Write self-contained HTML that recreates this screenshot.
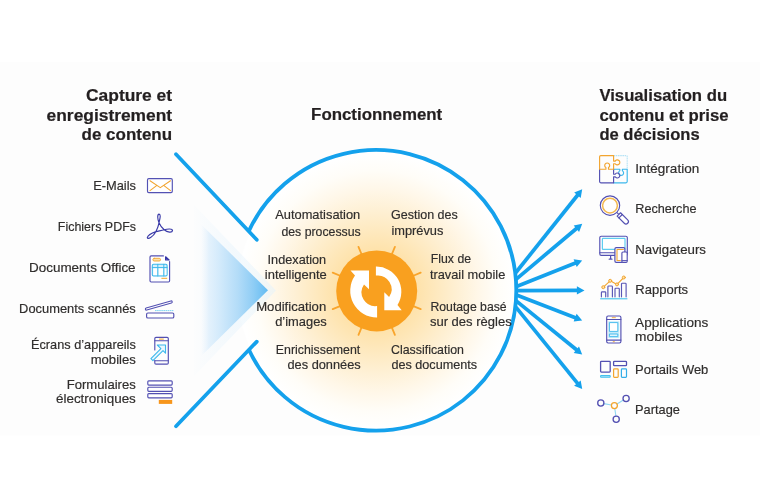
<!DOCTYPE html>
<html>
<head>
<meta charset="utf-8">
<title>Fonctionnement</title>
<style>
html,body{margin:0;padding:0;background:#ffffff;}
body{width:760px;height:501px;overflow:hidden;font-family:"Liberation Sans",sans-serif;}
svg{display:block;will-change:transform;}
text{font-family:"Liberation Sans",sans-serif;}
.h{font-weight:bold;font-size:16px;fill:#231f20;stroke:#231f20;stroke-width:0.2px;}
.t{font-size:12.8px;fill:#302e2d;stroke:#302e2d;stroke-width:0.18px;}
</style>
</head>
<body>
<svg width="760" height="501" viewBox="0 0 760 501">
<defs>
<radialGradient id="glow" gradientUnits="userSpaceOnUse" cx="376.5" cy="291" r="137">
<stop offset="0" stop-color="#fddc9c"/>
<stop offset="0.29" stop-color="#fee2aa"/>
<stop offset="0.44" stop-color="#fee9bf"/>
<stop offset="0.59" stop-color="#fef0d4"/>
<stop offset="0.74" stop-color="#fff7e8"/>
<stop offset="0.88" stop-color="#fffdf8"/>
<stop offset="1" stop-color="#ffffff"/>
</radialGradient>
<linearGradient id="tri" gradientUnits="userSpaceOnUse" x1="201" y1="0" x2="268" y2="0">
<stop offset="0" stop-color="#e4f1fc" stop-opacity="0"/>
<stop offset="0.12" stop-color="#dceefc" stop-opacity="0.75"/>
<stop offset="0.3" stop-color="#d0e9fb" stop-opacity="1"/>
<stop offset="0.55" stop-color="#b3dcf8" stop-opacity="1"/>
<stop offset="0.78" stop-color="#8fcdf5" stop-opacity="1"/>
<stop offset="1" stop-color="#62bbf2" stop-opacity="1"/>
</linearGradient>
<linearGradient id="tri2" gradientUnits="userSpaceOnUse" x1="188" y1="0" x2="276" y2="0">
<stop offset="0" stop-color="#e3f2fc" stop-opacity="0"/>
<stop offset="0.5" stop-color="#e3f2fc" stop-opacity="0.4"/>
<stop offset="1" stop-color="#e3f2fc" stop-opacity="0.5"/>
</linearGradient>
</defs>
<!-- background band -->
<rect x="0" y="0" width="760" height="501" fill="#ffffff"/>
<rect x="0" y="62" width="760" height="373.5" fill="#fdfdfd"/>
<!-- glow -->
<circle cx="376" cy="290.3" r="138.5" fill="url(#glow)"/>
<!-- blue funnel triangles -->
<polygon points="276,290.5 194,205 194,376" fill="url(#tri2)"/>
<polygon points="268,290.3 201,224.3 201,356.3" fill="url(#tri)"/>
<!-- funnel lines + circle -->
<g fill="none" stroke="#14a1ec" stroke-width="3.7" stroke-linecap="round">
<line x1="176" y1="154.2" x2="256.8" y2="239.8"/>
<line x1="176" y1="426.2" x2="256.8" y2="341.6"/>
<path d="M248.8 231.1 A140.3 140.3 0 1 1 248.8 349.5" stroke-linecap="butt" stroke-width="3.8"/>
</g>
<g stroke="#14a1ec" stroke-width="3.7" fill="#14a1ec">
<line x1="515.9" y1="272.5" x2="578.1" y2="194.5"/>
<polygon stroke="none" points="582.2,189.3 580.7,197.9 574.2,192.6"/>
<line x1="515.7" y1="279.6" x2="577.1" y2="228.0"/>
<polygon stroke="none" points="582.2,223.8 579.1,231.9 573.7,225.5"/>
<line x1="515.9" y1="286.7" x2="576.1" y2="262.8"/>
<polygon stroke="none" points="582.2,260.4 576.7,267.1 573.6,259.3"/>
<line x1="516.1" y1="290.6" x2="577.9" y2="290.4"/>
<polygon stroke="none" points="584.5,290.4 576.9,294.6 576.9,286.2"/>
<line x1="515.9" y1="294.7" x2="576.0" y2="318.0"/>
<polygon stroke="none" points="582.2,320.4 573.6,321.6 576.6,313.7"/>
<line x1="515.6" y1="300.4" x2="577.1" y2="350.3"/>
<polygon stroke="none" points="582.2,354.5 573.7,353.0 579.0,346.4"/>
<line x1="515.9" y1="307.2" x2="578.0" y2="383.9"/>
<polygon stroke="none" points="582.2,389.0 574.1,385.7 580.7,380.5"/></g>
<g stroke="#f9a52c" stroke-width="1.8" stroke-linecap="round">
<line x1="412.7" y1="305.8" x2="420.7" y2="309.1"/>
<line x1="391.6" y1="326.9" x2="394.9" y2="334.9"/>
<line x1="361.8" y1="326.9" x2="358.5" y2="334.9"/>
<line x1="340.7" y1="305.8" x2="332.7" y2="309.1"/>
<line x1="340.7" y1="276.0" x2="332.7" y2="272.7"/>
<line x1="361.8" y1="254.9" x2="358.5" y2="246.9"/>
<line x1="391.6" y1="254.9" x2="394.9" y2="246.9"/>
<line x1="412.7" y1="276.0" x2="420.7" y2="272.7"/>
</g>
<circle cx="376.7" cy="290.9" r="40.5" fill="#f9a01f"/>
<g fill="#ffffff"><path d="M377.1 317.4 A26.6 26.6 0 0 1 355 275.6 L350.5 270.5 L369 270.5 L369 289.3 L364 284.6 A13.8 13.8 0 0 0 377.1 306.1 Z"/><path d="M375.9 266.6 A25 25 0 0 1 397.5 304.9 L401.7 310.3 L384.3 310.3 L384.3 292.3 L389.1 297.1 A13.8 13.8 0 0 0 375.9 275.6 Z"/></g>
<text class="h" x="86.0" y="100.6" textLength="86.1" lengthAdjust="spacingAndGlyphs">Capture et</text>
<text class="h" x="46.6" y="120.5" textLength="125.5" lengthAdjust="spacingAndGlyphs">enregistrement</text>
<text class="h" x="81.6" y="140.4" textLength="90.5" lengthAdjust="spacingAndGlyphs">de contenu</text>
<text class="h" x="311.1" y="120.3" textLength="131.1" lengthAdjust="spacingAndGlyphs">Fonctionnement</text>
<text class="h" x="599.4" y="101.0" textLength="127.7" lengthAdjust="spacingAndGlyphs">Visualisation du</text>
<text class="h" x="599.4" y="121.0" textLength="129.2" lengthAdjust="spacingAndGlyphs">contenu et prise</text>
<text class="h" x="599.4" y="140.0" textLength="100.2" lengthAdjust="spacingAndGlyphs">de décisions</text>
<text class="t" x="93.2" y="189.5" textLength="42.8" lengthAdjust="spacingAndGlyphs">E-Mails</text>
<text class="t" x="57.8" y="231.3" textLength="78.2" lengthAdjust="spacingAndGlyphs">Fichiers PDFs</text>
<text class="t" x="29.0" y="272.4" textLength="106.6" lengthAdjust="spacingAndGlyphs">Documents Office</text>
<text class="t" x="19.1" y="312.6" textLength="116.7" lengthAdjust="spacingAndGlyphs">Documents scannés</text>
<text class="t" x="31.0" y="348.5" textLength="104.8" lengthAdjust="spacingAndGlyphs">Écrans d’appareils</text>
<text class="t" x="90.7" y="363.5" textLength="45.1" lengthAdjust="spacingAndGlyphs">mobiles</text>
<text class="t" x="66.7" y="388.8" textLength="69.1" lengthAdjust="spacingAndGlyphs">Formulaires</text>
<text class="t" x="56.0" y="403.3" textLength="79.8" lengthAdjust="spacingAndGlyphs">électroniques</text>
<text class="t" x="275.2" y="219.3" textLength="85.1" lengthAdjust="spacingAndGlyphs">Automatisation</text>
<text class="t" x="281.4" y="235.5" textLength="79.3" lengthAdjust="spacingAndGlyphs">des processus</text>
<text class="t" x="267.6" y="263.8" textLength="58.6" lengthAdjust="spacingAndGlyphs">Indexation</text>
<text class="t" x="264.8" y="279.0" textLength="62.0" lengthAdjust="spacingAndGlyphs">intelligente</text>
<text class="t" x="256.2" y="310.5" textLength="70.0" lengthAdjust="spacingAndGlyphs">Modification</text>
<text class="t" x="275.2" y="326.0" textLength="51.6" lengthAdjust="spacingAndGlyphs">d’images</text>
<text class="t" x="275.8" y="354.0" textLength="84.5" lengthAdjust="spacingAndGlyphs">Enrichissement</text>
<text class="t" x="287.5" y="369.2" textLength="73.2" lengthAdjust="spacingAndGlyphs">des données</text>
<text class="t" x="391.0" y="219.3" textLength="66.8" lengthAdjust="spacingAndGlyphs">Gestion des</text>
<text class="t" x="391.4" y="235.2" textLength="52.0" lengthAdjust="spacingAndGlyphs">imprévus</text>
<text class="t" x="430.8" y="263.3" textLength="40.3" lengthAdjust="spacingAndGlyphs">Flux de</text>
<text class="t" x="429.9" y="279.0" textLength="75.4" lengthAdjust="spacingAndGlyphs">travail mobile</text>
<text class="t" x="430.5" y="310.5" textLength="76.1" lengthAdjust="spacingAndGlyphs">Routage basé</text>
<text class="t" x="429.9" y="326.0" textLength="81.8" lengthAdjust="spacingAndGlyphs">sur des règles</text>
<text class="t" x="391.0" y="354.1" textLength="72.9" lengthAdjust="spacingAndGlyphs">Classification</text>
<text class="t" x="391.4" y="369.3" textLength="85.8" lengthAdjust="spacingAndGlyphs">des documents</text>
<text class="t" x="635.3" y="173.4" textLength="63.9" lengthAdjust="spacingAndGlyphs">Intégration</text>
<text class="t" x="635.3" y="213.4" textLength="61.2" lengthAdjust="spacingAndGlyphs">Recherche</text>
<text class="t" x="635.3" y="253.8" textLength="70.7" lengthAdjust="spacingAndGlyphs">Navigateurs</text>
<text class="t" x="635.3" y="294.0" textLength="52.8" lengthAdjust="spacingAndGlyphs">Rapports</text>
<text class="t" x="635.1" y="327.0" textLength="73.2" lengthAdjust="spacingAndGlyphs">Applications</text>
<text class="t" x="635.1" y="341.2" textLength="47.3" lengthAdjust="spacingAndGlyphs">mobiles</text>
<text class="t" x="635.1" y="373.6" textLength="73.2" lengthAdjust="spacingAndGlyphs">Portails Web</text>
<text class="t" x="635.1" y="413.8" textLength="44.8" lengthAdjust="spacingAndGlyphs">Partage</text>
<!-- LEFT ICONS -->
<g fill="none" stroke-linecap="round" stroke-linejoin="round">
<!-- email -->
<rect x="147.5" y="178.6" width="24.8" height="14" rx="1.3" stroke="#5352b4" stroke-width="1.15" fill="#ffffff"/>
<path d="M150 180.8 L160.3 187.6 L170.5 180.8 M150 190.7 L156.6 185.6 M170.5 190.7 L164 185.6" stroke="#f2a530" stroke-width="1.05"/>
<!-- pdf -->
<path d="M156 231.6 C157.4 228.5 158.5 225.5 159 222.8 C159.7 219.5 161.3 214.4 159.1 214.1 C156.9 214.3 157.7 219.5 159 222.8 C160.2 225.5 161.8 228 164.2 229.8 C167.5 232.6 172.2 233 172.5 230.6 C172.4 228.4 167.5 228.8 164.2 229.8 C161.5 230.5 158.5 231 156 231.6 C152.5 232.8 147.8 235.5 147.3 237.6 C147.6 239.6 153 237.3 156 231.6 Z" stroke="#3a3aa8" stroke-width="1.15"/>
<!-- office doc -->
<path d="M163.4 255.9 H151.2 Q150 255.9 150 257.1 V280.8 Q150 282 151.2 282 H168.4 Q169.6 282 169.6 280.8 V261.6" stroke="#5350b2" stroke-width="1.15" fill="#ffffff"/>
<path d="M165.6 256.8 V260 H169.1 Z" stroke="#3535a6" stroke-width="1.2" fill="#8f8fd0"/>
<rect x="152.9" y="258.3" width="7.6" height="2.7" rx="1.3" stroke="#f2a530" stroke-width="0.9" fill="#fce0aa"/>
<rect x="152.3" y="264.3" width="14.8" height="11.7" rx="1.2" stroke="#3db8ec" stroke-width="1.1" fill="#d6f0fb"/>
<rect x="153.3" y="268.2" width="3.8" height="6.8" fill="#ffffff" stroke="none"/>
<rect x="158.6" y="268.2" width="4.4" height="6.8" fill="#ffffff" stroke="none"/>
<rect x="164.6" y="268.2" width="1.8" height="6.8" fill="#ffffff" stroke="none"/>
<path d="M152.3 267.6 H167.1 M157.8 264.3 V276 M163.8 264.3 V276" stroke="#3db8ec" stroke-width="1"/>
<path d="M161.8 278.3 H166.8" stroke="#f2a530" stroke-width="1"/>
<!-- scanner -->
<rect x="146.6" y="313" width="27.2" height="5" rx="1.3" stroke="#5350b2" stroke-width="1.15" fill="#ffffff"/>
<rect x="-13.9" y="-1.05" width="27.8" height="2.1" rx="1.05" transform="translate(158.8 305.5) rotate(-15.8)" stroke="#5350b2" stroke-width="1.1" fill="#ffffff"/>
<path d="M155 310.6 H173.4" stroke="#7dd4f3" stroke-width="1" stroke-dasharray="1.6 0.5" stroke-linecap="butt"/>
<!-- mobile screens -->
<path d="M154.8 350 V338.6 Q154.8 337.4 156 337.4 H167.1 Q168.3 337.4 168.3 338.6 V362.9 Q168.3 364.1 167.1 364.1 H156 Q154.8 364.1 154.8 362.9 V360.6" stroke="#5350b2" stroke-width="1.15" fill="none"/>
<path d="M154.8 340.8 H168.3 M154.8 360.7 H168.3" stroke="#5350b2" stroke-width="1.1"/>
<path d="M159.4 339.1 H163.4" stroke="#f2a530" stroke-width="1"/>
<path d="M157.3 345 H165.5 V353.2 L163 350.7 L152.9 360.6 L150.9 358.6 L160.9 348.6 Z" stroke="#3db8ec" stroke-width="1.1" fill="#eaf7fd"/>
<!-- forms -->
<rect x="147.8" y="380.8" width="24.4" height="4.3" rx="1" stroke="#5350b2" stroke-width="1.15" fill="#ffffff"/>
<rect x="147.8" y="387.2" width="24.4" height="4.1" rx="1" stroke="#5350b2" stroke-width="1.15" fill="#ffffff"/>
<rect x="147.8" y="393.6" width="24.4" height="4.2" rx="1" stroke="#5350b2" stroke-width="1.15" fill="#ffffff"/>
<rect x="158.8" y="399.9" width="13.4" height="4" fill="#f7961c" stroke="none"/>
</g>
<!-- RIGHT ICONS -->
<g fill="none" stroke-linecap="round" stroke-linejoin="round">
<!-- puzzle -->
<path d="M613.6 155.6 H626.2 Q627.2 155.6 627.2 156.6 V169.2" stroke="#b5e3f6" stroke-width="1.1" stroke-dasharray="1.6 0.6" stroke-linecap="butt"/>
<path d="M613.6 182.8 H626 Q627.2 182.8 627.2 181.6 V169.2 H622.4 v1.6 a2.5 2.5 0 1 1 -2.6 0 v-1.6 H613.6" stroke="#3db8ec" stroke-width="1.15"/>
<path d="M599.6 169.2 V181.6 Q599.6 182.8 600.8 182.8 H613.6 V176.8 h1.6 a2.5 2.5 0 1 0 0 -2.6 h-1.6 V169.2" stroke="#5350b2" stroke-width="1.15"/>
<path d="M613.6 155.6 H600.8 Q599.6 155.6 599.6 156.8 V169.2 H605.9 v-1.6 a2.5 2.5 0 1 1 2.6 0 v1.6 H613.6 V163.7 h1.6 a2.5 2.5 0 1 0 0 -2.6 h-1.6 Z" stroke="#f2a530" stroke-width="1.15"/>
<!-- magnifier -->
<circle cx="610" cy="205.6" r="9.7" stroke="#5350b2" stroke-width="1.15" fill="#ffffff"/>
<circle cx="610" cy="205.6" r="7.4" stroke="#f4b850" stroke-width="1.5"/>
<g transform="translate(610 205.6) rotate(45)" stroke="#5350b2" stroke-width="1.15">
<path d="M10.3 0 H12.5"/>
<path d="M12.5 -2.4 H22.6 A2.4 2.4 0 0 1 22.6 2.4 H12.5 Z" fill="#ffffff"/>
<path d="M15 -2.4 V2.4"/>
</g>
<!-- browsers -->
<rect x="599.8" y="236.2" width="27.5" height="19.2" rx="1.4" stroke="#5350b2" stroke-width="1.15" fill="#ffffff"/>
<rect x="602.4" y="238.3" width="22.6" height="11" rx="0.6" stroke="#5fcdf0" stroke-width="1.2"/>
<path d="M599.8 252.8 H627.3" stroke="#5350b2" stroke-width="1.1"/>
<path d="M610.6 256 V259 M609.2 259.2 H612" stroke="#5350b2" stroke-width="1.2"/>
<rect x="614.9" y="247.6" width="10" height="14.8" rx="1.3" stroke="#5350b2" stroke-width="1.2" fill="#ffffff"/>
<path d="M623.4 249.5 H617 V260.5 H620.3" stroke="#f2a530" stroke-width="1.1"/>
<rect x="621.9" y="252" width="5.3" height="10.4" rx="1.1" stroke="#5350b2" stroke-width="1.15" fill="#ffffff"/>
<path d="M621.9 260.6 H627.2" stroke="#5350b2" stroke-width="1"/>
<!-- reports -->
<path d="M601.4 296.8 V292.6 Q601.4 291.8 602.2 291.8 H604.9 Q605.7 291.8 605.7 292.6 V296.8 M607.9 296.8 V286.8 Q607.9 286 608.7 286 H611.6 Q612.4 286 612.4 286.8 V296.8 M615 296.8 V289 Q615 288.2 615.8 288.2 H618.5 Q619.3 288.2 619.3 289 V296.8 M621.5 296.8 V284 Q621.5 283.2 622.3 283.2 H625.3 Q626.1 283.2 626.1 284 V296.8" stroke="#5a57b6" stroke-width="1.15"/>
<path d="M600.2 298.7 H627.4" stroke="#6fd0f0" stroke-width="1.5" stroke-linecap="butt"/>
<path d="M603.3 287.2 L610.2 280.8 L617 284.4 L623.8 277.5" stroke="#f2a530" stroke-width="1.1"/>
<g stroke="#f2a530" stroke-width="1" fill="#fde3b0">
<circle cx="603.3" cy="287.2" r="1.5"/><circle cx="610.2" cy="280.8" r="1.5"/><circle cx="617" cy="284.4" r="1.5"/><circle cx="623.8" cy="277.5" r="1.5"/>
</g>
<!-- mobile app -->
<rect x="606.7" y="316" width="14.2" height="27" rx="1.4" stroke="#5350b2" stroke-width="1.15" fill="#ffffff"/>
<path d="M606.7 319.5 H620.9 M606.7 340.1 H620.9" stroke="#5350b2" stroke-width="1.1"/>
<path d="M612.2 317.7 H615.4 M613.2 341.7 H614.4" stroke="#f2a530" stroke-width="0.9"/>
<rect x="608.3" y="321.3" width="11" height="16.8" fill="#c4eaf9" stroke="none"/>
<rect x="609.8" y="322.6" width="8" height="8.8" stroke="#3db8ec" stroke-width="0.9" fill="#ffffff"/>
<rect x="609.8" y="334" width="8" height="2.6" stroke="#3db8ec" stroke-width="0.9" fill="#e2f5fc"/>
<!-- portals -->
<rect x="600.6" y="361.3" width="9.6" height="10.8" rx="0.8" stroke="#5350b2" stroke-width="1.3"/>
<rect x="613.6" y="361.3" width="12.9" height="4.4" rx="0.8" stroke="#5350b2" stroke-width="1.3"/>
<rect x="600.6" y="375.6" width="9.6" height="1.7" rx="0.5" stroke="#45c0ee" stroke-width="1.1" fill="#d6f0fb"/>
<rect x="613.6" y="368.9" width="4.6" height="8.4" rx="0.8" stroke="#f2a530" stroke-width="1.2"/>
<rect x="621.4" y="368.9" width="5.1" height="8.4" rx="0.8" stroke="#35aee8" stroke-width="1.2"/>
<!-- share -->
<path d="M603.8 403.6 L611.4 405 M617 404 L623.4 400 M614.8 408.6 L615.9 416" stroke="#8fd8f3" stroke-width="1.1"/>
<circle cx="614.4" cy="405.6" r="3" stroke="#f2a530" stroke-width="1.3"/>
<circle cx="600.8" cy="403" r="3.1" stroke="#5350b2" stroke-width="1.3"/>
<circle cx="626.1" cy="398.5" r="3.1" stroke="#5350b2" stroke-width="1.3"/>
<circle cx="616.2" cy="419.2" r="3.1" stroke="#5350b2" stroke-width="1.3"/>
</g>
</svg>
</body>
</html>
